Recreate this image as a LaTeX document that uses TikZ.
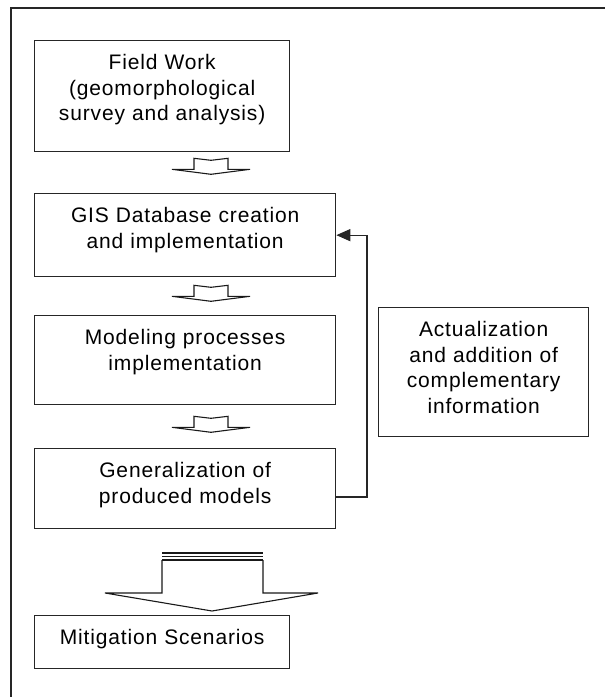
\documentclass[tikz,border=0pt]{standalone}
\usepackage{fontspec}
\setmainfont[LetterSpace=4]{Liberation Sans}
\usetikzlibrary{arrows.meta}

\newcommand\flatarrow[1]{%
  \draw[blockarrow, shift={(#1)}] (-17,0) -- (0,2) -- (17,0) -- (17,11) -- (39,11)
    -- (0,16) -- (-39,11) -- (-17,11) -- cycle;}

\begin{document}
\begin{tikzpicture}[
    x=1pt, y=-1pt,
    font=\fontsize{21}{25.5}\selectfont,
    frame/.style={draw=black!85, line width=1.4pt},
    stage/.style={draw=black!85, line width=1.3pt, align=center, anchor=north west,
      inner xsep=4pt, inner ysep=0pt, text height=29pt},
    blockarrow/.style={draw=black!90, line width=1.1pt, fill=white, line join=miter},
    feedback/.style={draw=black!85, line width=1.3pt, -{Triangle[length=14pt,width=12pt]}}
  ]

  \useasboundingbox (0,0) rectangle (605,697);
  \draw[frame] (11,697) -- (11,8) -- (605,8);

  % main chain
  \node[stage, text width=247pt, text depth=82pt] (field) at (34,40)
    {Field Work\\(geomorphological\\survey and analysis)};
  \node[stage, text width=293pt, text depth=54pt] (gis) at (34,193)
    {GIS Database creation\\and implementation};
  \node[stage, text width=293pt, text depth=60pt] (model) at (34,315)
    {Modeling processes\\implementation};
  \node[stage, text width=293pt, text depth=51pt] (gen) at (34,448)
    {Generalization of\\produced models};
  \node[stage, text width=247pt, text depth=24pt] (mitig) at (34,615)
    {Mitigation Scenarios};

  \node[stage, text width=202pt, text depth=100pt] (actual) at (378,307)
    {Actualization\\and addition of\\complementary\\information};

  % block arrows
  \coordinate (down1) at ([yshift=-6pt] field.south -| 211,0);
  \coordinate (down2) at ([yshift=-8pt] gis.south -| 211,0);
  \coordinate (down3) at ([yshift=-11pt] model.south -| 211,0);
  \flatarrow{down1}
  \flatarrow{down2}
  \flatarrow{down3}

  \coordinate (big) at (212,553);
  \draw[blockarrow, shift={(big)}] (-50,7) -- (-50,40) -- (-107,40) -- (0,58)
    -- (106,40) -- (51,40) -- (51,7);
  \foreach \y in {0,3.5,7}
    \draw[black!90, line width=1.1pt] ([yshift=-\y pt] big) ++(-50,0) -- ++(101,0);

  % feedback loop
  \coordinate (loop) at (367,497);
  \draw[feedback] (loop -| gen.east) -- (loop) -- (loop |- gis.east) -- (gis.east);

\end{tikzpicture}
\end{document}
